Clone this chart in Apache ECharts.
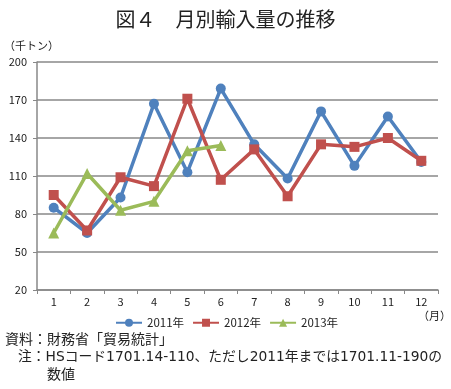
<!DOCTYPE html>
<html><head><meta charset="utf-8">
<script src="https://cdn.jsdelivr.net/npm/echarts@6/dist/echarts.min.js"></script>
<style>html,body{margin:0;padding:0;background:#fff}#c{width:451px;height:389px}</style>
</head><body><div id="c"></div>
<script>
const months = ['1','2','3','4','5','6','7','8','9','10','11','12'];
const s2011 = [85, 65, 93, 167, 113, 179, 135, 108, 161, 118, 157, 121];
const s2012 = [95, 67, 109, 102, 171, 107, 131, 94, 135, 133, 140, 122];
const s2013 = [65, 112, 83, 90, 130, 134];
const names = ['2011年','2012年','2013年'];
const FONT = '"Noto Sans CJK JP", sans-serif';
const NFONT = '"DejaVu Sans", "Noto Sans CJK JP", sans-serif';
const chart = echarts.init(document.getElementById('c'));
const mk = (name, data, color, symbol, size) => ({
  name, type: 'line', data, symbol, symbolSize: size,
  lineStyle: {color, width: 3.5}, itemStyle: {color},
  animation: false
});
chart.setOption({
  animation: false,
  textStyle: {fontFamily: FONT},
  title: {text: '図４　月別輸入量の推移', left: 'center', top: 4,
    textStyle: {fontFamily: FONT, fontSize: 20, fontWeight: 'normal', color: '#222'}},
  grid: {left: 37, right: 13, top: 62, bottom: 99},
  legend: {data: names, top: 312, left: 110, itemWidth: 26, itemHeight: 10, itemGap: 8,
    textStyle: {fontFamily: FONT, fontSize: 11.5, color: '#222'}},
  xAxis: {type: 'category', data: months, boundaryGap: true,
    axisLine: {lineStyle: {color: '#888', width: 1.5}},
    axisTick: {show: true, length: 4, lineStyle: {color: '#888'}},
    axisLabel: {color: '#222', fontSize: 11, margin: 6, fontFamily: FONT}},
  yAxis: {type: 'value', min: 20, max: 200, interval: 30,
    axisLine: {show: true, lineStyle: {color: '#888', width: 1.5}},
    axisTick: {show: true, length: 4, lineStyle: {color: '#888'}},
    splitLine: {lineStyle: {color: '#888', width: 1.5}},
    axisLabel: {color: '#222', fontSize: 11, margin: 10, fontFamily: FONT}},
  graphic: [
    {type: 'text', left: 4, top: 40, style: {text: '（千トン）', font: '11px ' + FONT, fill: '#222'}},
    {type: 'text', left: 418, top: 310, style: {text: '（月）', font: '11px ' + FONT, fill: '#222'}},
    {type: 'text', left: 5, top: 333, style: {text: '資料：財務省「貿易統計」', font: '14px ' + NFONT, fill: '#222'}},
    {type: 'text', left: 18, top: 351, style: {text: '注：HSコード1701.14-110、ただし2011年までは1701.11-190の', font: '13.8px ' + NFONT, fill: '#222'}},
    {type: 'text', left: 47, top: 368, style: {text: '数値', font: '14px ' + NFONT, fill: '#222'}}
  ],
  series: [
    mk(names[0], s2011, '#4F81BD', 'circle', 10),
    mk(names[1], s2012, '#C0504D', 'rect', 10),
    mk(names[2], s2013, '#9BBB59', 'triangle', 11)
  ]
});
</script></body></html>
